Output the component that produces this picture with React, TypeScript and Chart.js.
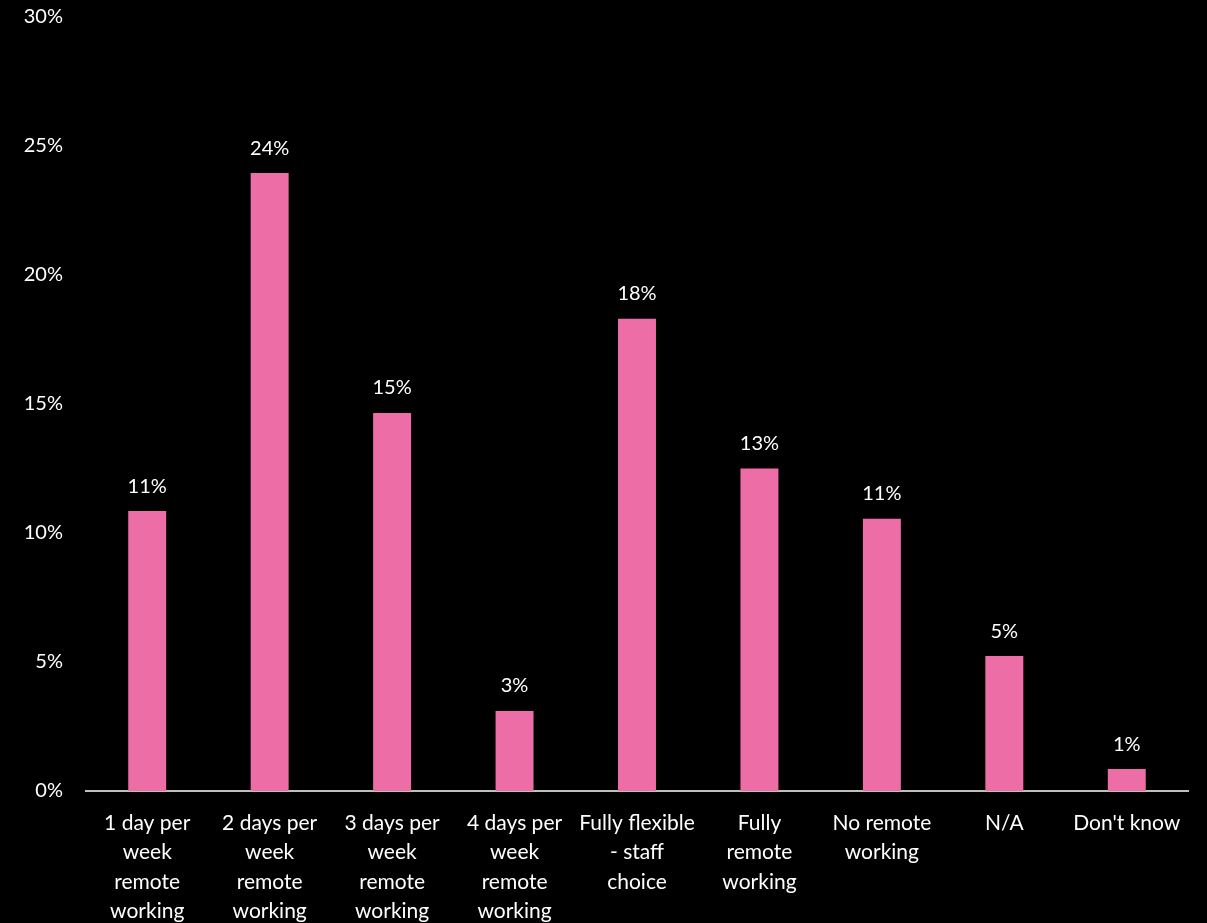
import React, { useEffect, useRef } from "react";
import { Chart, registerables } from "chart.js";

Chart.register(...registerables);

const categories: string[][] = [
  ["1 day per", "week", "remote", "working"],
  ["2 days per", "week", "remote", "working"],
  ["3 days per", "week", "remote", "working"],
  ["4 days per", "week", "remote", "working"],
  ["Fully flexible", "- staff", "choice"],
  ["Fully", "remote", "working"],
  ["No remote", "working"],
  ["N/A"],
  ["Don't know"],
];

const values: number[] = [10.85, 23.95, 14.65, 3.1, 18.3, 12.5, 10.55, 5.23, 0.85];
const yTicks: number[] = [0, 5, 10, 15, 20, 25, 30];

const FONT = "Lato, 'Noto Sans', sans-serif";

const dataLabelPlugin = {
  id: "dataLabels",
  afterDatasetsDraw(chart: any) {
    const ctx = chart.ctx;
    const meta = chart.getDatasetMeta(0);
    ctx.save();
    ctx.fillStyle = "#ffffff";
    ctx.font = `20px ${FONT}`;
    ctx.textAlign = "center";
    ctx.textBaseline = "middle";
    meta.data.forEach((bar: any, i: number) => {
      ctx.fillText(`${Math.round(values[i])}%`, bar.x, bar.y - 25);
    });
    ctx.restore();
  },
};

export default function App() {
  const ref = useRef<HTMLCanvasElement | null>(null);
  useEffect(() => {
    if (!ref.current) return;
    const chart = new Chart(ref.current, {
      type: "bar",
      data: {
        labels: categories,
        datasets: [
          {
            data: values,
            backgroundColor: "#ED6EA7",
            borderWidth: 0,
            barPercentage: 0.31,
            categoryPercentage: 1,
          },
        ],
      },
      options: {
        animation: false,
        responsive: false,
        maintainAspectRatio: false,
        layout: { padding: { top: 17, right: 19, left: 0, bottom: 0 } },
        plugins: { legend: { display: false }, tooltip: { enabled: false } },
        scales: {
          x: {
            grid: { display: false, drawTicks: false },
            border: { display: true, color: "#BFBFBF", width: 2 },
            afterFit: (axis: any) => {
              axis.height = 132;
              axis.paddingLeft = 0;
              axis.paddingRight = 0;
            },
            ticks: {
              color: "#ffffff",
              font: { family: FONT, size: 21, lineHeight: 1.405 },
              padding: 17,
              maxRotation: 0,
              autoSkip: false,
            },
          },
          y: {
            min: 0,
            max: 30,
            afterBuildTicks: (axis: any) => {
              axis.ticks = yTicks.map((v) => ({ value: v }));
            },
            afterFit: (axis: any) => {
              axis.width = 86;
              axis.paddingTop = 0;
              axis.paddingBottom = 0;
            },
            grid: { display: false, drawTicks: false },
            border: { display: false },
            ticks: {
              color: "#ffffff",
              font: { family: FONT, size: 20 },
              padding: 23,
              callback: (v: any) => `${v}%`,
            },
          },
        },
      },
      plugins: [dataLabelPlugin],
    });
    return () => chart.destroy();
  }, []);
  return (
    <div style={{ position: "fixed", left: 0, top: 0, width: 1207, height: 923, background: "#000" }}>
      <canvas ref={ref} width={1207} height={923} style={{ display: "block" }} />
    </div>
  );
}
